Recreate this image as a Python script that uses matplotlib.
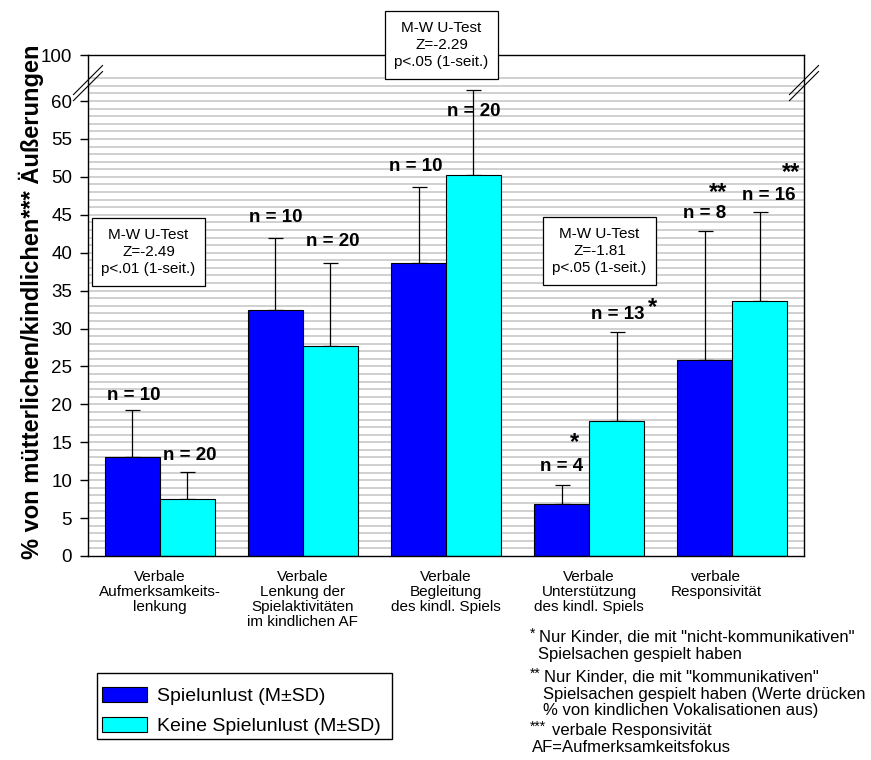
import numpy as np
import matplotlib.pyplot as plt
from matplotlib.transforms import ScaledTranslation

plt.rcParams['font.family'] = ['Liberation Sans', 'DejaVu Sans']

# ------------------------------------------------------------------ #
#  Data                                                               #
# ------------------------------------------------------------------ #
categories = [
    "Verbale\nAufmerksamkeits-\nlenkung",
    "Verbale\nLenkung der\nSpielaktivitäten\nim kindlichen AF",
    "Verbale\nBegleitung\ndes kindl. Spiels",
    "Verbale\nUnterstützung\ndes kindl. Spiels",
    "verbale\nResponsivität",
]
spielunlust_mean = [13.1, 32.4, 38.7, 6.9, 25.8]
spielunlust_sd   = [6.1, 9.5, 10.0, 2.5, 17.1]
keine_mean       = [7.5, 27.7, 50.2, 17.8, 33.6]
keine_sd         = [3.6, 11.0, 11.2, 11.8, 11.8]
n_spielunlust    = [10, 10, 10, 4, 8]
n_keine          = [20, 20, 20, 13, 16]

y_ticks       = list(range(0, 61, 5))
y_top_label   = "100"
series_labels = ["Spielunlust (M±SD)", "Keine Spielunlust (M±SD)"]

tests = [
    "M-W U-Test\nZ=-2.49\np<.01 (1-seit.)",
    "M-W U-Test\nZ=-2.29\np<.05 (1-seit.)",
    "M-W U-Test\nZ=-1.81\np<.05 (1-seit.)",
]

footnotes = [
    ("*",   'Nur Kinder, die mit "nicht-kommunikativen"'),
    ("",    'Spielsachen gespielt haben'),
    ("**",  'Nur Kinder, die mit "kommunikativen"'),
    ("",    'Spielsachen gespielt haben (Werte drücken'),
    ("",    '% von kindlichen Vokalisationen aus)'),
    ("***", 'verbale Responsivität'),
    ("",    'AF=Aufmerksamkeitsfokus'),
]

# ------------------------------------------------------------------ #
#  Layout                                                             #
# ------------------------------------------------------------------ #
W, H = 871, 760
BREAK_POS = 66.07          # axis position where "100" sits (broken axis)
BAR_W = 0.384
BLUE, CYAN = "#0000ff", "#00ffff"


def fx(px):
    return px / W


def fy(py):
    return 1 - py / H


fig = plt.figure(figsize=(W / 100, H / 100), dpi=100)
ax = fig.add_axes([fx(88), fy(556), fx(804) - fx(88), fy(55) - fy(556)])

x = np.arange(len(categories))
xb = x - BAR_W / 2
xc = x + BAR_W / 2

# grid lines every unit up to 63
ax.hlines(np.arange(1, 64), -0.5, 4.5, color="#c8c8c8", lw=1.2, zorder=0)

ax.bar(xb, spielunlust_mean, BAR_W, color=BLUE, edgecolor="black", lw=0.8, zorder=2)
ax.bar(xc, keine_mean, BAR_W, color=CYAN, edgecolor="black", lw=0.8, zorder=2)
ax.errorbar(xb, spielunlust_mean, yerr=[np.zeros(5), spielunlust_sd], fmt="none",
            ecolor="black", elinewidth=0.9, capsize=5.4, capthick=0.9, zorder=1)
ax.errorbar(xc, keine_mean, yerr=[np.zeros(5), keine_sd], fmt="none",
            ecolor="black", elinewidth=0.9, capsize=5.4, capthick=0.9, zorder=1)

ax.set_xlim(-0.5, 4.5)
ax.set_ylim(0, BREAK_POS)
ax.set_yticks(y_ticks + [BREAK_POS], [str(t) for t in y_ticks] + [y_top_label])
ax.tick_params(axis="y", direction="out", length=6, width=1, pad=5.5, labelsize=13.5)
ax.set_xticks(x, categories, fontsize=11, linespacing=1.08)
ax.tick_params(axis="x", length=0, pad=10)
for lab in ax.get_xticklabels()[-1:]:
    lab.set_transform(lab.get_transform() + ScaledTranslation(-0.16, 0, fig.dpi_scale_trans))
for s in ax.spines.values():
    s.set_linewidth(1.0)

# axis break marks
for xa in (0, 1):
    for dy in (-0.006, 0.006):
        ax.plot([xa - 0.0203, xa + 0.0203], [0.944 + dy - 0.029, 0.944 + dy + 0.029],
                transform=ax.transAxes, color="black", lw=0.8, clip_on=False, zorder=5)

# n labels: (x offset, y offset from error cap)
nfont = dict(fontsize=13.5, fontweight="bold", ha="center", va="center", zorder=6)
blue_off = [(0.01, 2.0), (0.0, 2.7), (-0.02, 2.6), (0.0, 2.4), (0.0, 2.3)]
cyan_off = [(0.02, 2.1), (0.02, 2.8), (0.0, -2.8), (0.01, 2.2), (0.06, 2.2)]
for i in range(5):
    top = spielunlust_mean[i] + spielunlust_sd[i]
    ax.text(xb[i] + blue_off[i][0], top + blue_off[i][1], f"n = {n_spielunlust[i]}", **nfont)
    top = keine_mean[i] + keine_sd[i]
    ax.text(xc[i] + cyan_off[i][0], top + cyan_off[i][1], f"n = {n_keine[i]}", **nfont)

sfont = dict(fontsize=17, fontweight="bold", ha="center", va="center", zorder=6)
ax.text(2.894, 15.0, "*", **sfont)
ax.text(3.445, 32.8, "*", **sfont)
ax.text(3.899, 48.0, "**", **sfont)
ax.text(4.409, 50.6, "**", clip_on=False, **sfont)

# test boxes
box_pos = [(-0.0775, 40.1), (1.969, 67.4), (3.072, 40.2)]
for txt, (bx, by) in zip(tests, box_pos):
    ax.text(bx, by, txt, fontsize=11, ha="center", va="center", linespacing=1.3,
            zorder=7, clip_on=False,
            bbox=dict(boxstyle="square,pad=0.62", fc="white", ec="black", lw=0.9))

# y label
fig.text(fx(31), fy(302), "% von mütterlichen/kindlichen*** Äußerungen",
         rotation=90, fontsize=17, fontweight="bold", ha="center", va="center")

# legend (frame drawn separately to match the original box)
handles = [plt.Rectangle((0, 0), 1, 1, fc=BLUE, ec="black", lw=0.8),
           plt.Rectangle((0, 0), 1, 1, fc=CYAN, ec="black", lw=0.8)]
fig.legend(handles, series_labels, loc="upper left", bbox_to_anchor=(fx(102), fy(687)),
           fontsize=14, frameon=False, handlelength=2.3, handleheight=0.8,
           labelspacing=0.62, borderpad=0, handletextpad=0.55, borderaxespad=0)
fig.patches.append(plt.Rectangle((fx(97), fy(739)), fx(392) - fx(97), fy(673) - fy(739),
                                 transform=fig.transFigure, fill=False, ec="black", lw=1.0))

# footnotes
line_y = [637, 655, 677, 694, 711, 730, 747]
text_x = [539, 538, 544, 543, 543, 552, 532]
for (star, txt), py, px in zip(footnotes, line_y, text_x):
    if star:
        fig.text(fx(530), fy(py - 3), star, fontsize=10, ha="left", va="center")
    fig.text(fx(px), fy(py), txt, fontsize=12, ha="left", va="center")

fig.savefig("out.png", dpi=100)
